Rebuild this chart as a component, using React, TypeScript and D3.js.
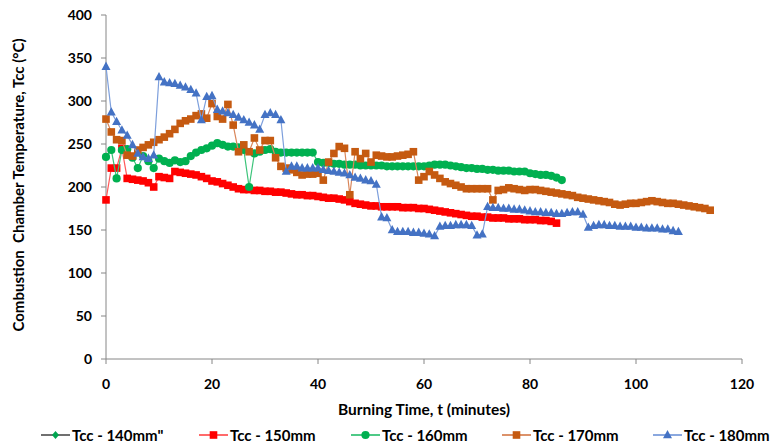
import React from "react";
import * as d3 from "d3";

// Values indexed by minute (t = index)
const tcc140: number[] = [];
const tcc150 = [185,222,222,245,210,209,208,207,205,200,212,211,210,218,217,216,215,214,212,210,207,206,204,202,200,198,197,197,196,196,195,195,194,194,193,192,191,191,190,190,189,188,187,187,186,185,183,181,180,179,178,178,177,177,177,177,176,176,176,175,175,174,173,172,171,170,169,168,167,166,166,165,165,164,164,164,163,163,163,162,162,162,161,161,160,158];
const tcc160 = [235,243,210,243,244,234,222,236,230,222,233,230,228,231,229,230,236,240,243,245,248,251,249,247,247,246,243,200,239,241,243,244,241,240,240,240,240,240,240,240,229,228,228,227,227,226,226,226,225,225,225,225,225,224,224,224,224,224,224,224,224,225,226,226,226,225,224,223,222,222,221,221,220,220,219,219,219,218,218,218,216,215,214,214,213,211,208];
const tcc170 = [279,264,255,254,237,236,243,246,249,252,255,258,262,267,274,277,279,283,285,280,297,282,279,296,272,241,249,241,257,243,254,254,234,224,222,220,217,214,215,215,216,208,229,239,247,245,191,241,233,239,229,237,236,235,235,236,237,238,241,208,212,218,214,210,206,204,202,200,198,198,198,198,198,185,196,197,199,198,197,196,197,197,196,195,194,193,192,191,190,188,187,186,185,184,183,182,180,179,180,181,181,182,183,184,183,182,181,181,180,179,178,177,176,175,173];
const tcc180 = [340,287,276,266,260,249,239,235,233,237,328,322,321,320,318,316,313,309,278,305,306,290,288,286,284,281,278,275,272,267,284,286,284,278,218,224,224,222,222,222,222,220,219,218,217,216,214,211,210,208,207,203,165,164,150,148,148,148,147,147,146,145,143,154,155,155,156,156,156,155,144,145,177,176,176,175,175,174,174,173,172,171,171,170,170,169,169,170,171,171,168,153,155,156,156,155,155,154,154,154,153,153,152,152,152,151,151,149,148];

const seriesNames = ["Tcc - 140mm\"", "Tcc - 150mm", "Tcc - 160mm", "Tcc - 170mm", "Tcc - 180mm"];
const xTicks = [0, 20, 40, 60, 80, 100, 120];
const yTicks = [0, 50, 100, 150, 200, 250, 300, 350, 400];

const FONT = "Lato, 'Open Sans', sans-serif";

type Shape = "diamond" | "square" | "circle" | "triangle";

function Marker({ shape, x, y, fill }: { shape: Shape; x: number; y: number; fill: string }) {
  if (shape === "square") return <rect x={x - 3.8} y={y - 3.8} width={7.6} height={7.6} fill={fill} />;
  if (shape === "circle") return <circle cx={x} cy={y} r={4.1} fill={fill} />;
  if (shape === "triangle") return <path d={`M${x},${y - 5}L${x + 4.5},${y + 3.3}L${x - 4.5},${y + 3.3}Z`} fill={fill} />;
  return <path d={`M${x},${y - 4}L${x + 3.5},${y}L${x},${y + 4}L${x - 3.5},${y}Z`} fill={fill} />;
}

export default function App() {
  const W = 773, H = 446;
  const x = d3.scaleLinear().domain([0, 120]).range([106, 742]);
  const y = d3.scaleLinear().domain([0, 400]).range([359, 15]);

  const series = [
    { name: seriesNames[0], data: tcc140, line: "#606060", marker: "#00a550", shape: "diamond" as Shape },
    { name: seriesNames[1], data: tcc150, line: "#ff5a5a", marker: "#ff0000", shape: "square" as Shape },
    { name: seriesNames[2], data: tcc160, line: "#3cc47a", marker: "#00b050", shape: "circle" as Shape },
    { name: seriesNames[3], data: tcc170, line: "#d9865a", marker: "#c55a11", shape: "square" as Shape },
    { name: seriesNames[4], data: tcc180, line: "#7d9fdc", marker: "#4472c4", shape: "triangle" as Shape },
  ];

  const line = d3.line<number>().x((_, i) => x(i)).y((d) => y(d));
  const legendX = [41, 199, 351, 502, 653];

  return (
    <svg width={W} height={H} style={{ display: "block", position: "absolute", left: 0, top: 0 }}>
      <rect width={W} height={H} fill="#fff" />
      {/* axes */}
      <line x1={106} x2={106} y1={15} y2={359} stroke="#868686" strokeWidth={1} />
      <line x1={106} x2={742} y1={359} y2={359} stroke="#868686" strokeWidth={1} />
      {yTicks.map((t) => (
        <g key={"y" + t}>
          <line x1={101} x2={106} y1={y(t)} y2={y(t)} stroke="#868686" />
          <text x={92} y={y(t) + 5} textAnchor="end" fontFamily={FONT} fontWeight="bold" fontSize={14} fill="#000">{t}</text>
        </g>
      ))}
      {xTicks.map((t) => (
        <g key={"x" + t}>
          <line x1={x(t)} x2={x(t)} y1={359} y2={364} stroke="#868686" />
          <text x={x(t)} y={389} textAnchor="middle" fontFamily={FONT} fontWeight="bold" fontSize={14} fill="#000">{t}</text>
        </g>
      ))}
      <text x={424} y={415} textAnchor="middle" fontFamily={FONT} fontWeight="bold" fontSize={15.5} fill="#000">Burning Time, t (minutes)</text>
      <text transform="translate(24,185) rotate(-90)" textAnchor="middle" fontFamily={FONT} fontWeight="bold" fontSize={15} fill="#000" style={{ whiteSpace: "pre" }}>{"Combustion  Chamber Temperature, Tcc (°C)"}</text>

      {series.map((s) => (
        <g key={s.name}>
          {s.data.length > 0 && <path d={line(s.data) || ""} fill="none" stroke={s.line} strokeWidth={1.2} />}
          {s.data.map((d, i) => (
            <Marker key={i} shape={s.shape} x={x(i)} y={y(d)} fill={s.marker} />
          ))}
        </g>
      ))}

      {/* legend */}
      {series.map((s, i) => (
        <g key={"l" + i}>
          <line x1={legendX[i]} x2={legendX[i] + 29} y1={435} y2={435} stroke={s.line} strokeWidth={1.8} />
          <Marker shape={s.shape} x={legendX[i] + 14.5} y={435} fill={s.marker} />
          <text x={legendX[i] + 31} y={440.5} fontFamily={FONT} fontWeight="bold" fontSize={15} fill="#000">{s.name}</text>
        </g>
      ))}
    </svg>
  );
}
